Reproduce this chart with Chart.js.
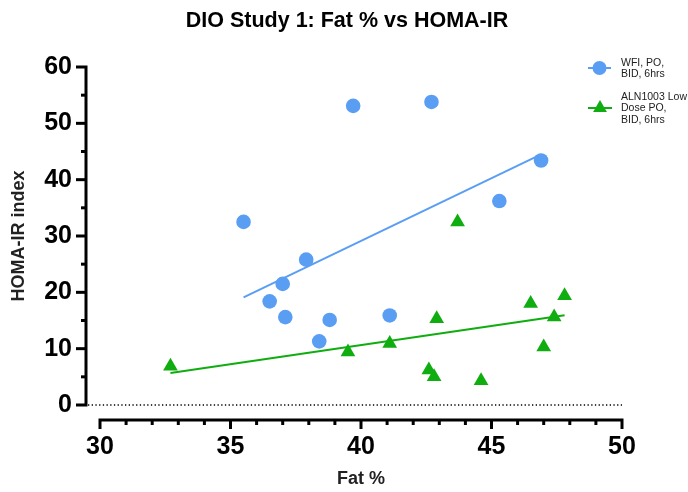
<!DOCTYPE html>
<html>
<head>
<meta charset="utf-8">
<script src="https://cdn.jsdelivr.net/npm/chart.js@4"></script>
<style>
  html, body { margin: 0; padding: 0; background: #fff; }
</style>
</head>
<body>
<canvas id="fatChart" width="688" height="492"></canvas>
<script>
// Fat % and HOMA-IR index per animal, one pair of arrays per group
const wfiFat  = [35.5, 39.7, 42.7, 37.9, 37.0, 36.5, 37.1, 38.8, 38.4, 41.1, 46.9, 45.3];
const wfiHoma = [32.5, 53.1, 53.8, 25.8, 21.5, 18.4, 15.6, 15.1, 11.3, 15.9, 43.4, 36.2];
const alnFat  = [32.7, 39.5, 41.1, 42.9, 42.6, 42.8, 43.7, 44.6, 46.5, 47.4, 47.8, 47.0];
const alnHoma = [6.9, 9.4, 10.9, 15.3, 6.2, 5.0, 32.5, 4.3, 18.0, 15.6, 19.4, 10.3];

const groupNames = [['WFI, PO,', 'BID, 6hrs'], ['ALN1003 Low', 'Dose PO,', 'BID, 6hrs']];
const xTicks = [30, 35, 40, 45, 50];
const yTicks = [0, 10, 20, 30, 40, 50, 60];

const BLUE = '#5a9ef4';
const GREEN = '#10ad10';
const FONT = "'Liberation Sans', Arial, sans-serif";

// least-squares line across the range of x values
function linearFit(xs, ys) {
    const n = xs.length;
    const mx = xs.reduce((a, b) => a + b, 0) / n;
    const my = ys.reduce((a, b) => a + b, 0) / n;
    let sxy = 0, sxx = 0;
    for (let i = 0; i < n; i++) {
        sxy += (xs[i] - mx) * (ys[i] - my);
        sxx += (xs[i] - mx) * (xs[i] - mx);
    }
    const slope = sxy / sxx;
    const lo = Math.min(...xs), hi = Math.max(...xs);
    return [
        { x: lo, y: my + slope * (lo - mx) },
        { x: hi, y: my + slope * (hi - mx) }
    ];
}

function toPoints(xs, ys) {
    return xs.map((x, i) => ({ x: x, y: ys[i] }));
}

// offset axes, zero line, title and legend
const prismAxes = {
    id: 'prismAxes',
    beforeDatasetsDraw(chart) {
        const { ctx, chartArea, scales: { x, y } } = chart;
        const y0 = y.getPixelForValue(0);
        ctx.save();
        ctx.strokeStyle = '#000';
        ctx.lineWidth = 1.3;
        ctx.setLineDash([1.3, 2.4]);
        ctx.beginPath();
        ctx.moveTo(chartArea.left - 12, y0);
        ctx.lineTo(chartArea.right, y0);
        ctx.stroke();
        ctx.restore();
    },
    afterDraw(chart) {
        const { ctx, chartArea, scales: { x, y } } = chart;
        ctx.save();
        ctx.strokeStyle = '#000';
        ctx.lineWidth = 3;
        ctx.lineJoin = 'miter';

        // y axis
        const ax = chartArea.left - 14;
        const yTop = y.getPixelForValue(yTicks[yTicks.length - 1]);
        const yBot = y.getPixelForValue(yTicks[0]);
        ctx.beginPath();
        ctx.moveTo(ax - 10, yTop);
        ctx.lineTo(ax, yTop);
        ctx.lineTo(ax, yBot);
        ctx.lineTo(ax - 10, yBot);
        ctx.stroke();
        for (let v = 5; v < 60; v += 5) {
            const py = y.getPixelForValue(v);
            const len = v % 10 === 0 ? 10 : 5;
            ctx.beginPath();
            ctx.moveTo(ax - len, py);
            ctx.lineTo(ax, py);
            ctx.stroke();
        }

        // x axis
        const ay = chartArea.bottom + 15;
        const xL = x.getPixelForValue(xTicks[0]);
        const xR = x.getPixelForValue(xTicks[xTicks.length - 1]);
        ctx.beginPath();
        ctx.moveTo(xL, ay + 9);
        ctx.lineTo(xL, ay);
        ctx.lineTo(xR, ay);
        ctx.lineTo(xR, ay + 9);
        ctx.stroke();
        for (let v = 31; v < 50; v++) {
            const px = x.getPixelForValue(v);
            const len = v % 5 === 0 ? 9 : 5;
            ctx.beginPath();
            ctx.moveTo(px, ay);
            ctx.lineTo(px, ay + len);
            ctx.stroke();
        }

        // title
        ctx.fillStyle = '#000';
        ctx.font = 'bold 21.5px ' + FONT;
        ctx.textAlign = 'center';
        ctx.textBaseline = 'middle';
        ctx.fillText('DIO Study 1: Fat % vs HOMA-IR', 347, 21);

        // legend
        ctx.lineWidth = 2;
        ctx.strokeStyle = BLUE;
        ctx.fillStyle = BLUE;
        ctx.beginPath();
        ctx.moveTo(588, 68);
        ctx.lineTo(611, 68);
        ctx.stroke();
        ctx.beginPath();
        ctx.arc(599.5, 68, 7, 0, Math.PI * 2);
        ctx.fill();

        ctx.strokeStyle = GREEN;
        ctx.fillStyle = GREEN;
        ctx.beginPath();
        ctx.moveTo(588, 108);
        ctx.lineTo(612, 108);
        ctx.stroke();
        const r = 8;
        ctx.beginPath();
        ctx.moveTo(600, 108 - r);
        ctx.lineTo(600 + r * 0.866, 108 + r / 2);
        ctx.lineTo(600 - r * 0.866, 108 + r / 2);
        ctx.closePath();
        ctx.fill();

        ctx.fillStyle = '#222';
        ctx.font = '10.5px ' + FONT;
        ctx.textAlign = 'left';
        groupNames[0].forEach((t, i) => ctx.fillText(t, 621, 63 + i * 11.5));
        groupNames[1].forEach((t, i) => ctx.fillText(t, 621, 97 + i * 11.5));
        ctx.restore();
    }
};

new Chart(document.getElementById('fatChart'), {
    type: 'scatter',
    data: {
        datasets: [
            {
                label: 'WFI, PO, BID, 6hrs',
                data: toPoints(wfiFat, wfiHoma),
                pointStyle: 'circle',
                pointRadius: 7.3,
                backgroundColor: BLUE,
                borderWidth: 0,
                clip: false
            },
            {
                label: 'ALN1003 Low Dose PO, BID, 6hrs',
                data: toPoints(alnFat, alnHoma),
                pointStyle: 'triangle',
                pointRadius: 8.5,
                backgroundColor: GREEN,
                borderWidth: 0,
                clip: false
            },
            {
                label: 'WFI fit',
                data: linearFit(wfiFat, wfiHoma),
                showLine: true,
                borderColor: BLUE,
                borderWidth: 2,
                pointRadius: 0
            },
            {
                label: 'ALN1003 fit',
                data: linearFit(alnFat, alnHoma),
                showLine: true,
                borderColor: GREEN,
                borderWidth: 2,
                pointRadius: 0
            }
        ]
    },
    options: {
        responsive: false,
        animation: false,
        events: [],
        layout: { padding: { left: 0, right: 66, top: 67, bottom: 0 } },
        plugins: {
            legend: { display: false },
            tooltip: { enabled: false }
        },
        scales: {
            x: {
                type: 'linear',
                min: 30,
                max: 50,
                afterFit: (s) => { s.height = 87; },
                afterBuildTicks: (s) => { s.ticks = xTicks.map(v => ({ value: v })); },
                grid: { display: false, drawTicks: false },
                border: { display: false },
                ticks: {
                    padding: 27,
                    color: '#000',
                    font: { family: FONT, size: 25, weight: 'bold' }
                },
                title: {
                    display: true,
                    text: 'Fat %',
                    color: '#222',
                    padding: { top: 0, bottom: 2 },
                    font: { family: FONT, size: 18, weight: 'bold' }
                }
            },
            y: {
                type: 'linear',
                min: 0,
                max: 60,
                afterFit: (s) => { s.width = 100; },
                afterBuildTicks: (s) => { s.ticks = yTicks.map(v => ({ value: v })); },
                grid: { display: false, drawTicks: false },
                border: { display: false },
                ticks: {
                    padding: 28,
                    color: '#000',
                    font: { family: FONT, size: 25, weight: 'bold' }
                },
                title: {
                    display: true,
                    text: 'HOMA-IR index',
                    color: '#222',
                    padding: { top: 8, bottom: 0 },
                    font: { family: FONT, size: 18, weight: 'bold' }
                }
            }
        }
    },
    plugins: [prismAxes]
});
</script>
</body>
</html>
